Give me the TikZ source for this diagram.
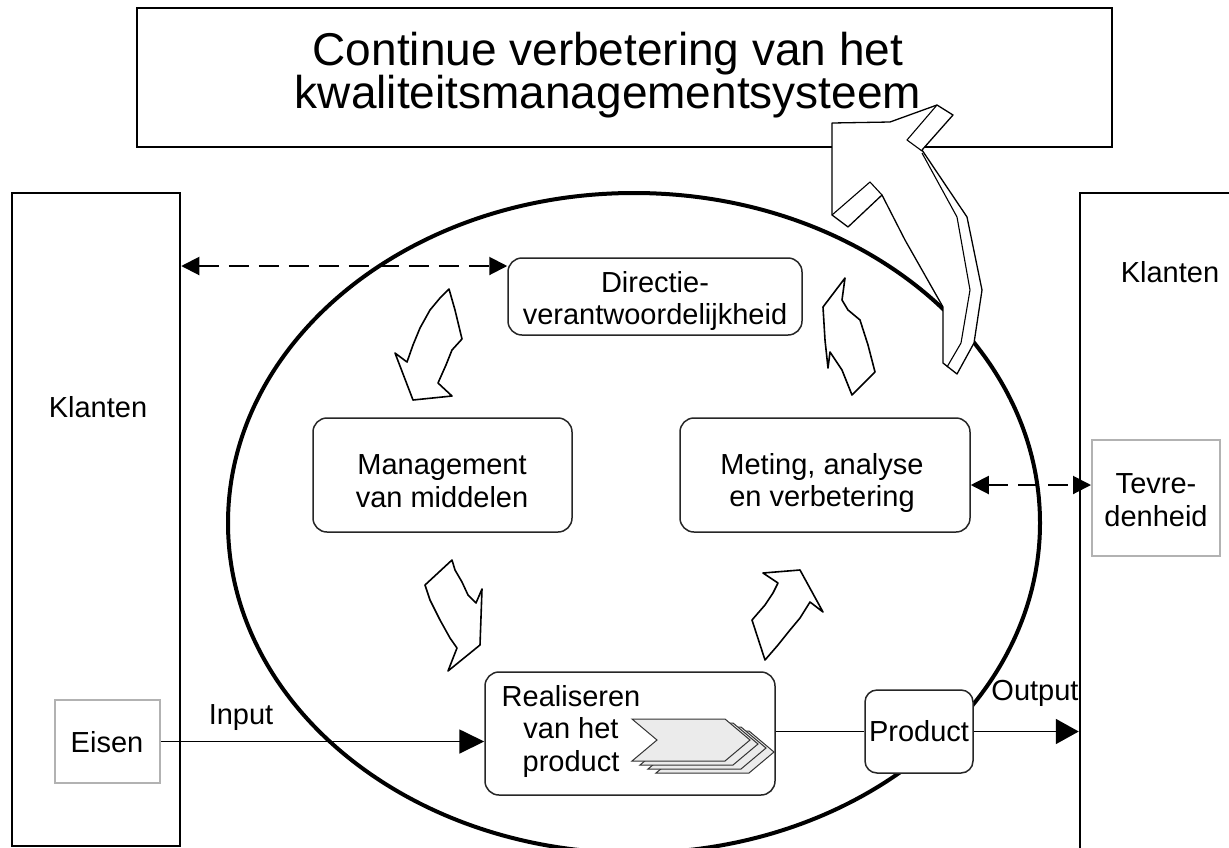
\documentclass[tikz,border=0pt]{standalone}
\usepackage{fontspec}
\setmainfont{Liberation Sans}
\usetikzlibrary{arrows.meta}
\begin{document}
\begin{tikzpicture}[x=1pt,y=-1pt,
  txt/.style={font=\fontsize{29}{32.5}\selectfont, align=center, inner sep=0pt},
  ttl/.style={font=\fontsize{46}{44}\selectfont, inner sep=0pt, anchor=base},
  rbox/.style={draw=black!85, line width=1.5pt, rounded corners=14pt, fill=white, inner sep=2pt,
    font=\fontsize{29}{32.5}\selectfont, align=center},
  gbox/.style={draw=black!30, line width=2pt, fill=white, inner sep=2pt},
  kbox/.style={draw=black, line width=2.5pt},
  flowline/.style={line width=1.8pt, -{Triangle[length=25pt,width=24pt]}},
  plainline/.style={line width=1.8pt},
  dashline/.style={line width=2pt, dash pattern=on 20pt off 10pt,
    {Triangle[length=18pt,width=18pt]}-{Triangle[length=18pt,width=18pt]}},
  blockarrow/.style={draw=black, line width=1.6pt, line join=round, fill=white},
  chev/.style={draw=black!80, line width=1pt, fill=black!8, line join=miter},
]
\useasboundingbox (0,0) rectangle (1229,847);
\fill[white] (0,0) rectangle (1229,847);

% title box
\node[draw=black, line width=1.5pt, minimum width=975pt, minimum height=139pt, inner sep=0pt] (title) at (624.5,77.5) {};

% customer boxes
\node[kbox, minimum width=168pt, minimum height=653pt] (klL) at (96,519.5) {};
\node[kbox, minimum width=170pt, minimum height=667pt] (klR) at (1165,526.5) {};
\node[txt] (klLt) at (98,407) {Klanten};
\node[txt] (klRt) at (1170,272) {Klanten};

% ellipse
\draw[line width=4pt] (634,523) ellipse [x radius=406pt, y radius=330pt];

% process boxes
\node[rbox, minimum width=294pt, minimum height=77pt] (dir) at (655,296.5) {};
\node[txt] (dirt) at (655,301) {Directie-\\verantwoordelijkheid};
\node[rbox, minimum width=259pt, minimum height=114pt] (man) at (442.5,475) {};
\node[txt] (mant) at (442,481) {Management\\van middelen};
\node[rbox, minimum width=290pt, minimum height=114pt] (met) at (825,475) {};
\node[txt] (mett) at (822,483) {Meting, analyse\\en verbetering};
\node[rbox, minimum width=290pt, minimum height=123pt] (real) at (630,733.5) {};
\node[txt] (realt) at (571,731) {Realiseren\\van het\\product};
\node[rbox, minimum width=108pt, minimum height=83pt, rounded corners=12pt] (prod) at (919,731.5) {Product};

\node[gbox, minimum width=105pt, minimum height=83pt] (eisen) at (107.5,741.5) {};
\node[txt] (eisent) at (107,742) {Eisen};
\node[gbox, minimum width=128pt, minimum height=116pt] (tev) at (1156,498) {};
\node[txt] (tevt) at (1156,500) {Tevre-\\denheid};

% chevrons inside Realiseren
\foreach \i in {3,2,1,0} {
  \draw[chev, shift={(8*\i,4*\i)}] (632,719) -- (725,719) -- (750,740) -- (725,761) -- (632,761) -- (657,740) -- cycle;
}

% connectors
\coordinate (d1) at (0,266);
\coordinate (d2) at (0,485);
\draw[flowline] (eisen.east) -- (real.west |- eisen.east);
\node[txt] (inp) at (241,718) {Input};
\draw[plainline] (real.east |- prod.west) -- (prod.west);
\draw[line width=1.8pt, -{Triangle[length=23pt,width=25pt]}] (prod.east) -- (klR.west |- prod.east);
\node[txt] (outp) at (1035,693) {Output};
\draw[dashline] (klL.east |- d1) -- (dir.west |- d1);
\draw[dashline] (met.east |- d2) -- (tev.west |- d2);

% cycle block arrows
\draw[blockarrow] (449,289) -- (455,310) -- (462,339) -- (452,350) -- (446,365) -- (438,383) -- (452,396) -- (413,400) -- (395,353) -- (407,362) -- (413,345) -- (420,328) -- (430,310) -- (440,298) -- cycle;
\draw[blockarrow] (452,560) -- (425,585) -- (430,600) -- (440,620) -- (450,638) -- (457,648) -- (448,671) -- (480,645) -- (482,589) -- (476,603) -- (468,595) -- (462,582) -- (455,570) -- cycle;
\draw[blockarrow] (763,573) -- (800,570) -- (823,612) -- (810,602) -- (800,618) -- (790,630) -- (778,645) -- (765,660) -- (752,620) -- (765,605) -- (773,593) -- (778,583) -- cycle;
\draw[blockarrow] (845,278) -- (823,307) -- (825,340) -- (828,368) -- (830,352) -- (842,370) -- (852,395) -- (875,372) -- (868,345) -- (860,320) -- (848,310) -- (842,300) -- cycle;

% big 3D arrow to the title
\draw[draw=black, line width=1.3pt, line join=round, fill=white]
  (832,123) -- (890,122) -- (937,105) -- (953,115) -- (922,150) -- (967,217) -- (982,290)
  -- (974,343) -- (957,374) -- (943,363) -- (943,307) -- (905,240) -- (882,195)
  -- (848,227) -- (832,215) -- cycle;
\draw[line width=1.1pt, line join=round] (937,105) -- (907,140) -- (922,151);
\draw[line width=1.1pt, line join=round] (922,153) -- (957,217) -- (970,290) -- (961,343) -- (947,367);
\draw[line width=1.1pt, line join=round] (832,215) -- (870,182) -- (882,195);

% title text
\node[ttl] (t1) at (608,65) {Continue verbetering van het};
\node[ttl] (t2) at (608,108) {kwaliteitsmanagementsysteem};
\end{tikzpicture}
\end{document}
